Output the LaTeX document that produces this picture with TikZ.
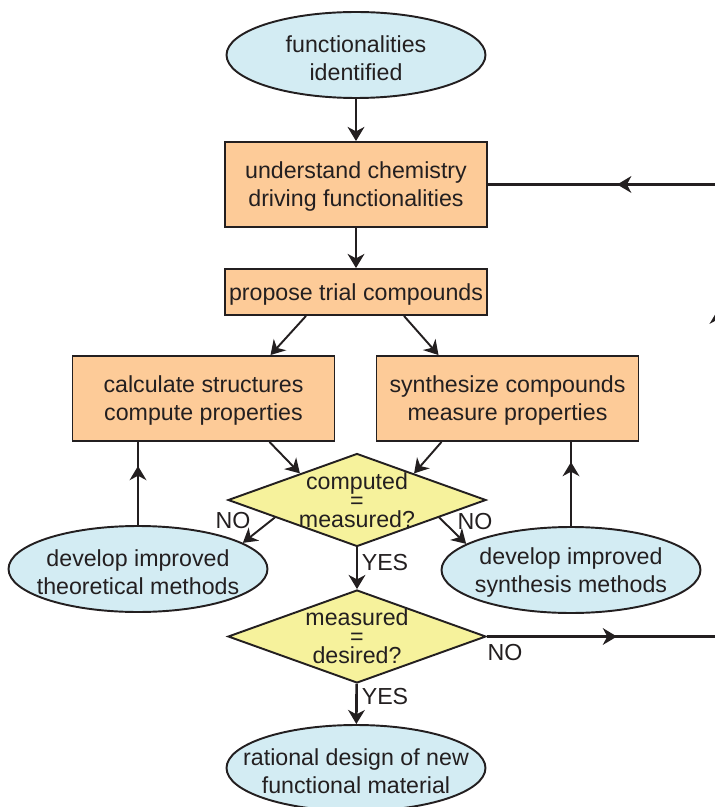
\documentclass[tikz,border=0pt]{standalone}
\usepackage{fontspec}
\setmainfont{Liberation Sans}
\usetikzlibrary{shapes.geometric,arrows.meta,decorations.markings}

\definecolor{ink}{HTML}{231F20}
\definecolor{skyfill}{HTML}{D3ECF3}
\definecolor{peachfill}{HTML}{FDCB98}
\definecolor{lemonfill}{HTML}{F6F29C}

\begin{document}
\begin{tikzpicture}[x=0.02cm, y=-0.02cm, font=\fontsize{13.2}{16}\selectfont, text=ink]
        \tikzstyle{term} = [ellipse, draw=ink, line width=1.1pt, fill=skyfill, minimum width=5.18cm, minimum height=1.72cm, inner sep=0pt]
        \tikzstyle{task} = [rectangle, draw=ink, line width=1.1pt, fill=peachfill, minimum width=5.24cm, minimum height=1.7cm, inner sep=1pt, text depth=0pt, align=center]
        \tikzstyle{test} = [diamond, draw=ink, line width=1.1pt, fill=lemonfill, minimum width=5.16cm, minimum height=1.86cm, inner sep=0pt]
        \tikzstyle{txt} = [align=center, inner sep=0pt, yshift=-1.6pt]
        \tikzstyle{dtxt} = [align=center, inner sep=0pt, font=\fontsize{13.2}{10.8}\selectfont]
        \tikzstyle{flow} = [draw=ink, line width=1.5pt]
        \tikzstyle{blk} = [flow, -{Stealth[length=8pt, width=9.5pt, inset=2.5pt]}]
        \tikzstyle{slant} = [blk, line width=1.1pt]
        \tikzset{midarr/.style={postaction={decorate}, decoration={markings, mark=at position #1 with {\arrow{Stealth[length=8pt, width=9.5pt, inset=2.5pt]}}}}}
        
        \useasboundingbox (0, 0) rectangle (715, 807);
        \clip (0, 0) rectangle (715, 807);
        
        \node[term, label={[txt]center:{functionalities\\identified}}] (start) at (356, 55) {};
        \node[task] (understand) at (356, 184.5) {understand chemistry\\driving functionalities};
        \node[task, minimum height=0.92cm] (propose) at (356, 292) {propose trial compounds};
        \node[task] (calc) at (203.5, 398.5) {calculate structures\\compute properties};
        \node[task] (synth) at (507.5, 398.5) {synthesize compounds\\measure properties};
        \node[test, label={[dtxt]center:{computed\\=\\measured?}}] (cm) at (357, 500) {};
        \node[term, label={[txt]center:{develop improved\\theoretical methods}}] (teo) at (138, 569) {};
        \node[term, label={[txt]center:{develop improved\\synthesis methods}}] (syn) at (571, 570) {};
        \node[test, label={[dtxt]center:{measured\\=\\desired?}}] (dm) at (357, 636.5) {};
        \node[term, label={[txt]center:{rational design of new\\functional material}}] (goal) at (356, 768) {};
        \node (no left) at (233, 521) {NO};
        \node (no right) at (475, 522) {NO};
        \node (yes one) at (385, 563) {YES};
        \node (no out) at (505, 653) {NO};
        \node (yes two) at (385, 697) {YES};
        \coordinate (fbbot) at (718, 636.5);
        \coordinate (fbtop) at (718, 184.5);
        
        \path[blk] (start) to (understand);
        \path[blk] (understand) to (propose);
        \path[slant] ([xshift=-1cm]propose.south) to ([xshift=1.34cm]calc.north);
        \path[slant] ([xshift=0.96cm]propose.south) to ([xshift=-1.38cm]synth.north);
        \path[slant] ([xshift=1.32cm]calc.south) to (cm.155);
        \path[slant] ([xshift=-1.32cm]synth.south) to (cm.25);
        \path[slant] (cm.192) to (teo.14);
        \path[slant] (cm.348) to (syn.166);
        \path[blk] (cm) to (dm);
        \path[blk] (dm) to (goal);
        \path[flow, midarr=1.18cm] (teo.north) to (teo.north |- calc.south);
        \path[flow, midarr=1.28cm] (syn.north) to (syn.north |- synth.south);
        \path[flow, postaction={decorate}, decoration={markings,
                mark=at position 2.6cm with {\arrow{Stealth[length=8pt, width=9.5pt, inset=2.5pt]}},
                mark=at position 11.16cm with {\arrow{Stealth[length=8pt, width=9.5pt, inset=2.5pt]}},
                mark=at position 15.68cm with {\arrow{Stealth[length=8pt, width=9.5pt, inset=2.5pt]}}}]
            (dm.east) -- (fbbot) -- (fbtop) -- (understand.east);
    \end{tikzpicture}
\end{document}
